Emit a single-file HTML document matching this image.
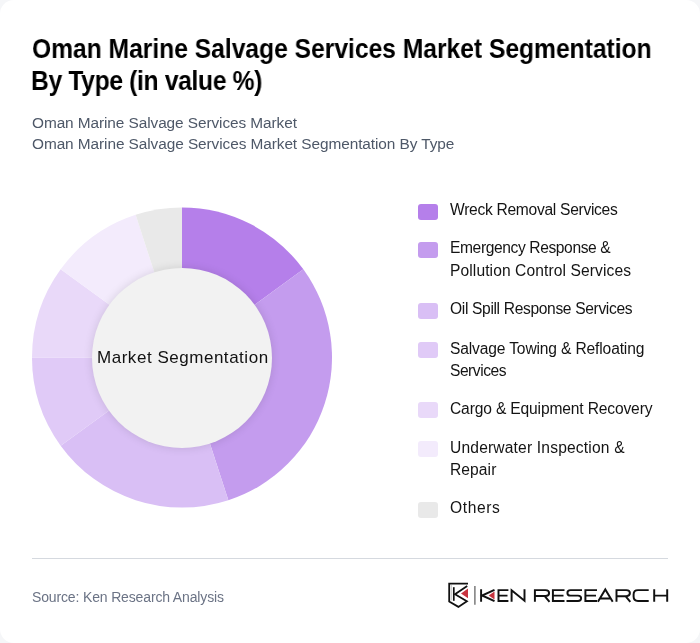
<!DOCTYPE html>
<html><head><meta charset="utf-8">
<style>
*{margin:0;padding:0;box-sizing:border-box}
html,body{width:700px;height:643px;overflow:hidden;background:#f5f6f8}
#card{position:absolute;left:0;top:0;width:700px;height:643px;background:#fff;border-radius:14px}
body{font-family:"Liberation Sans",sans-serif;position:relative}
.t{position:absolute;white-space:nowrap;will-change:transform}
.leg{position:absolute;left:418px;width:20px;height:16px;border-radius:3px}
</style></head><body>
<div id="card"></div>
<div class="t" style="left:31.72px;top:31.68px;font-size:27.4px;line-height:34.25px;color:#000;font-weight:bold;letter-spacing:-0.024px;transform:scaleX(0.9);transform-origin:0 0;">Oman Marine Salvage Services Market Segmentation</div>
<div class="t" style="left:31.3px;top:63.58px;font-size:27.4px;line-height:34.25px;color:#000;font-weight:bold;letter-spacing:-0.379px;transform:scaleX(0.9);transform-origin:0 0;">By Type (in value %)</div>
<div class="t" style="left:31.79px;top:112.94px;font-size:15.4px;line-height:19.25px;color:#4e5868;letter-spacing:-0.082px;">Oman Marine Salvage Services Market</div>
<div class="t" style="left:31.79px;top:133.84px;font-size:15.4px;line-height:19.25px;color:#4e5868;letter-spacing:-0.076px;">Oman Marine Salvage Services Market Segmentation By Type</div>
<div class="t" style="left:450.21px;top:200.24px;font-size:15.6px;line-height:19.5px;color:#141414;letter-spacing:-0.29px;">Wreck Removal Services</div>
<div class="t" style="left:450.0px;top:238.24px;font-size:15.6px;line-height:19.5px;color:#141414;letter-spacing:-0.392px;">Emergency Response &amp;</div>
<div class="t" style="left:450.0px;top:261.14px;font-size:15.6px;line-height:19.5px;color:#141414;letter-spacing:0.096px;">Pollution Control Services</div>
<div class="t" style="left:450.0px;top:299.44px;font-size:15.6px;line-height:19.5px;color:#141414;letter-spacing:-0.346px;">Oil Spill Response Services</div>
<div class="t" style="left:450.0px;top:338.64px;font-size:15.6px;line-height:19.5px;color:#141414;letter-spacing:-0.149px;">Salvage Towing &amp; Refloating</div>
<div class="t" style="left:450.0px;top:360.84px;font-size:15.6px;line-height:19.5px;color:#141414;letter-spacing:-0.475px;">Services</div>
<div class="t" style="left:450.0px;top:398.64px;font-size:15.6px;line-height:19.5px;color:#141414;letter-spacing:-0.152px;">Cargo &amp; Equipment Recovery</div>
<div class="t" style="left:450.0px;top:437.64px;font-size:15.6px;line-height:19.5px;color:#141414;letter-spacing:0.173px;">Underwater Inspection &amp;</div>
<div class="t" style="left:450.0px;top:459.84px;font-size:15.6px;line-height:19.5px;color:#141414;letter-spacing:0.08px;">Repair</div>
<div class="t" style="left:450.0px;top:498.44px;font-size:15.6px;line-height:19.5px;color:#141414;letter-spacing:0.6px;">Others</div>
<div class="t" style="left:31.51px;top:589.40px;font-size:14px;line-height:17.5px;color:#6b7385;letter-spacing:-0.148px;">Source: Ken Research Analysis</div>
<svg style="position:absolute;left:0;top:0" width="700" height="643"><path d="M182 357.5 L182.00 207.50 A150 150 0 0 1 303.35 269.33 Z" fill="#b57fea"/><path d="M182 357.5 L303.35 269.33 A150 150 0 0 1 228.35 500.16 Z" fill="#c49cee"/><path d="M182 357.5 L228.35 500.16 A150 150 0 0 1 60.65 445.67 Z" fill="#d9bff5"/><path d="M182 357.5 L60.65 445.67 A150 150 0 0 1 32.00 357.50 Z" fill="#e0caf7"/><path d="M182 357.5 L32.00 357.50 A150 150 0 0 1 60.65 269.33 Z" fill="#e9d9f9"/><path d="M182 357.5 L60.65 269.33 A150 150 0 0 1 135.65 214.84 Z" fill="#f3ebfc"/><path d="M182 357.5 L135.65 214.84 A150 150 0 0 1 182.00 207.50 Z" fill="#e9e9e9"/></svg>
<div style="position:absolute;left:92px;top:267.5px;width:180px;height:180px;border-radius:50%;background:#f2f2f2;box-shadow:0 0 10px rgba(0,0,0,0.12)"></div>
<div class="leg" style="top:204px;background:#b57fea"></div>
<div class="leg" style="top:242px;background:#c49cee"></div>
<div class="leg" style="top:303px;background:#d9bff5"></div>
<div class="leg" style="top:342px;background:#e0caf7"></div>
<div class="leg" style="top:402px;background:#e9d9f9"></div>
<div class="leg" style="top:441px;background:#f3ebfc"></div>
<div class="leg" style="top:502px;background:#e9e9e9"></div>
<div style="position:absolute;left:32px;top:558px;width:636px;height:1px;background:#d5d9df"></div>
<svg style="position:absolute;left:0;top:0" width="700" height="643" viewBox="0 0 700 643">
<g fill="none" stroke="#111" stroke-width="1.8" stroke-linejoin="miter">
<path d="M468 583.7 H449.2 V601.6 L458.4 606.9 L466.9 601.3 L455 594.2 L467.2 586 "/>
<path d="M453.8 587.2 V600.8" stroke-width="1.7"/>
<path d="M451.4 585 V600.4" stroke="#bbb" stroke-width="0.8"/>
</g>
<path d="M461 593.4 L468 588.4 L468 598.2 Z" fill="#c8343f"/>
<path d="M474.9 586 V604.7" stroke="#666" stroke-width="1.3"/>
<g fill="none" stroke="#111" stroke-width="1.95" stroke-linejoin="miter">
<path d="M481.1 589.2 V601.8 M494.5 589.8 L482 595.5 L494.5 601.2"/>
<path d="M508.4 590.1 H498.5 V600.9 H508.4 M498.5 595.6 H507.5"/>
<path d="M511.6 601.8 V590.3 L524.5 600.7 V589.2"/>
<path d="M534.9 601.8 V590.1 H545.5 Q549.1 590.1 549.1 593 Q549.1 595.9 545.5 595.9 H534.9 M544.5 595.9 L549.5 601.8"/>
<path d="M564.5 590.1 H552.9 V600.9 H564.5 M552.9 595.6 H563.5"/>
<path d="M582 590.1 H570.5 Q567.4 590.1 567.4 592.9 Q567.4 595.6 570.5 595.6 H578 Q581.1 595.6 581.1 598.25 Q581.1 600.9 578 600.9 H566.5"/>
<path d="M597 590.1 H585.4 V600.9 H597 M585.4 595.6 H596"/>
<path d="M597.9 601.8 L605.3 589.5 L612.7 601.8 M600.2 598.4 H610.4"/>
<path d="M616.5 601.8 V590.1 H626.3 Q629.9 590.1 629.9 593.1 Q629.9 596.2 626.3 596.2 H616.5 M625.5 596.2 L630.3 601.8"/>
<path d="M648.7 590.1 H638 Q633.6 590.1 633.6 594.5 V596.5 Q633.6 600.9 638 600.9 H648.7"/>
<path d="M654.2 589.2 V601.8 M667.2 589.2 V601.8 M654.2 595.6 H667.2"/>
</g>
<path d="M488.7 595.6 L494.5 591.4 L494.5 599.6 Z" fill="#c8343f"/>
</svg>
<div class="t" style="left:96.86px;top:347.48px;font-size:17px;line-height:21.25px;color:#111;letter-spacing:0.529px;">Market Segmentation</div>
</body></html>
